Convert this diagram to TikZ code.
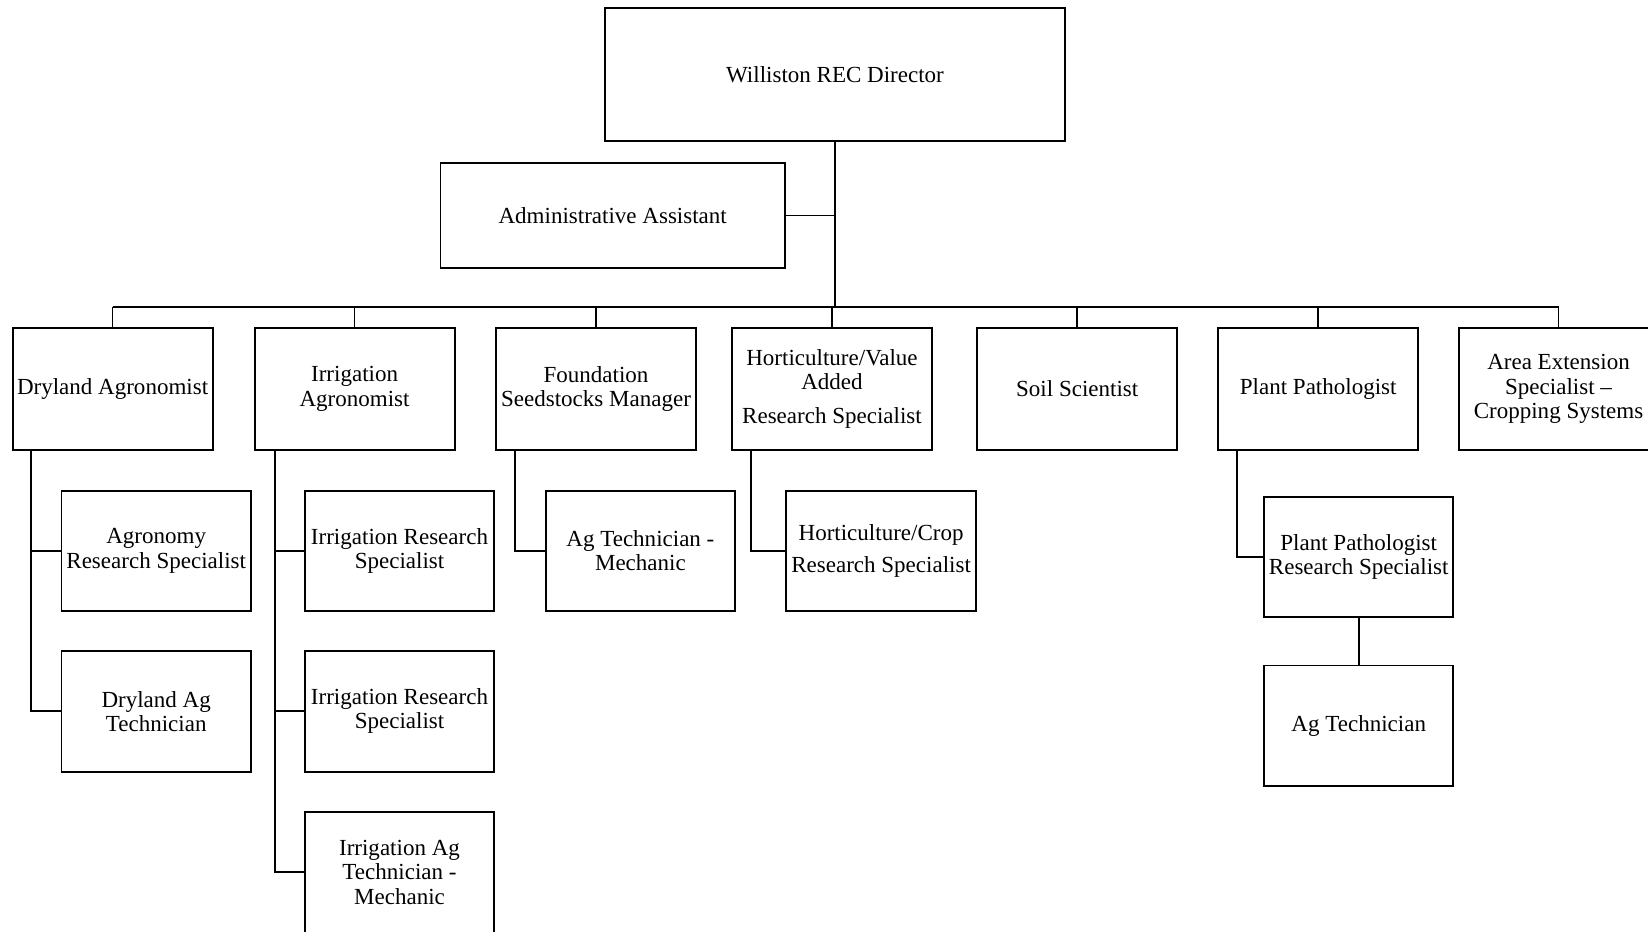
\documentclass[tikz,border=0pt]{standalone}
\usepackage{fontspec}
\setmainfont{Liberation Serif}

\tikzset{
  box/.style={draw, line width=1.1pt, inner sep=0pt, align=center,
    minimum width=4cm, minimum height=2.446cm},
  subbox/.style={box, minimum width=3.79cm, minimum height=2.41cm},
  link/.style={line width=1pt}
}

\begin{document}
\begin{tikzpicture}[x=0.02cm, y=-0.02cm, font=\fontsize{13.1}{13.8}\selectfont]
	    \useasboundingbox (0,0) rectangle (1648,931);

	    % top of the chart
	    \node[box, minimum width=9.2cm, minimum height=2.652cm] (dir) at (835,74.7) {Williston REC Director};
	    \node[box, minimum width=6.89cm, minimum height=2.112cm] (admin) at (612.7,215.5) {Administrative Assistant};
	    \coordinate (bus) at (0,307);

	    % first row
	    \node[box] (dry) at (112.6,388.9) {Dryland Agronomist};
	    \node[box] (irr) at (354.6,388.9) {Irrigation\\Agronomist};
	    \node[box] (fnd) at (596,388.9) {Foundation\\Seedstocks Manager};
	    \node[box] (hva) at (832,388.9) {Horticulture/Value\\Added\\[5.4pt]Research Specialist};
	    \node[box] (soil) at (1077.2,388.9) {Soil Scientist};
	    \node[box] (pp) at (1318.2,388.9) {Plant Pathologist};
	    \node[box] (ae) at (1558.5,388.9) {Area Extension\\Specialist --\\Cropping Systems};

	    % second row and below
	    \node[subbox] (agrs) at (156.2,550.9) {Agronomy\\Research Specialist};
	    \node[subbox] (dat) at (156.2,711.3) {Dryland Ag\\Technician};
	    \node[subbox] (irs1) at (399.5,550.9) {Irrigation Research\\Specialist};
	    \node[subbox] (irs2) at (399.5,711.3) {Irrigation Research\\Specialist};
	    \node[subbox] (iat) at (399.5,872.3) {Irrigation Ag\\Technician -\\Mechanic};
	    \node[subbox] (agm) at (640.4,550.9) {Ag Technician -\\Mechanic};
	    \node[subbox] (hcrs) at (881.1,550.9) {Horticulture/Crop\\[4.7pt]Research Specialist};
	    \node[subbox] (pprs) at (1358.7,557.2) {Plant Pathologist\\Research Specialist};
	    \node[subbox] (agt) at (1358.7,725.7) {Ag Technician};

	    % director, assistant and bus
	    \draw[link] (dir.south) -- (dir.south |- bus);
	    \draw[link] (admin.east) -- (admin.east -| dir.south);
	    \draw[link] (dry.north |- bus) -- (ae.north |- bus);
	    \draw[link] (dry.north) -- (dry.north |- bus);
	    \draw[link] (irr.north) -- (irr.north |- bus);
	    \draw[link] (fnd.north) -- (fnd.north |- bus);
	    \draw[link] (hva.north) -- (hva.north |- bus);
	    \draw[link] (soil.north) -- (soil.north |- bus);
	    \draw[link] (pp.north) -- (pp.north |- bus);
	    \draw[link] (ae.north) -- (ae.north |- bus);

	    % side lines to the staff
	    \coordinate (dryv) at ([xshift=0.39cm]dry.south west);
	    \coordinate (irrv) at ([xshift=0.42cm]irr.south west);
	    \coordinate (fndv) at ([xshift=0.4cm]fnd.south west);
	    \coordinate (hvav) at ([xshift=0.4cm]hva.south west);
	    \coordinate (ppv) at ([xshift=0.39cm]pp.south west);
	    \draw[link] (dryv) |- (dat.west);
	    \draw[link] (dryv |- agrs.west) -- (agrs.west);
	    \draw[link] (irrv) |- (iat.west);
	    \draw[link] (irrv |- irs1.west) -- (irs1.west);
	    \draw[link] (irrv |- irs2.west) -- (irs2.west);
	    \draw[link] (fndv) |- (agm.west);
	    \draw[link] (hvav) |- (hcrs.west);
	    \draw[link] (ppv) |- (pprs.west);
	    \draw[link] (pprs.south) -- (agt.north);
	\end{tikzpicture}
\end{document}
